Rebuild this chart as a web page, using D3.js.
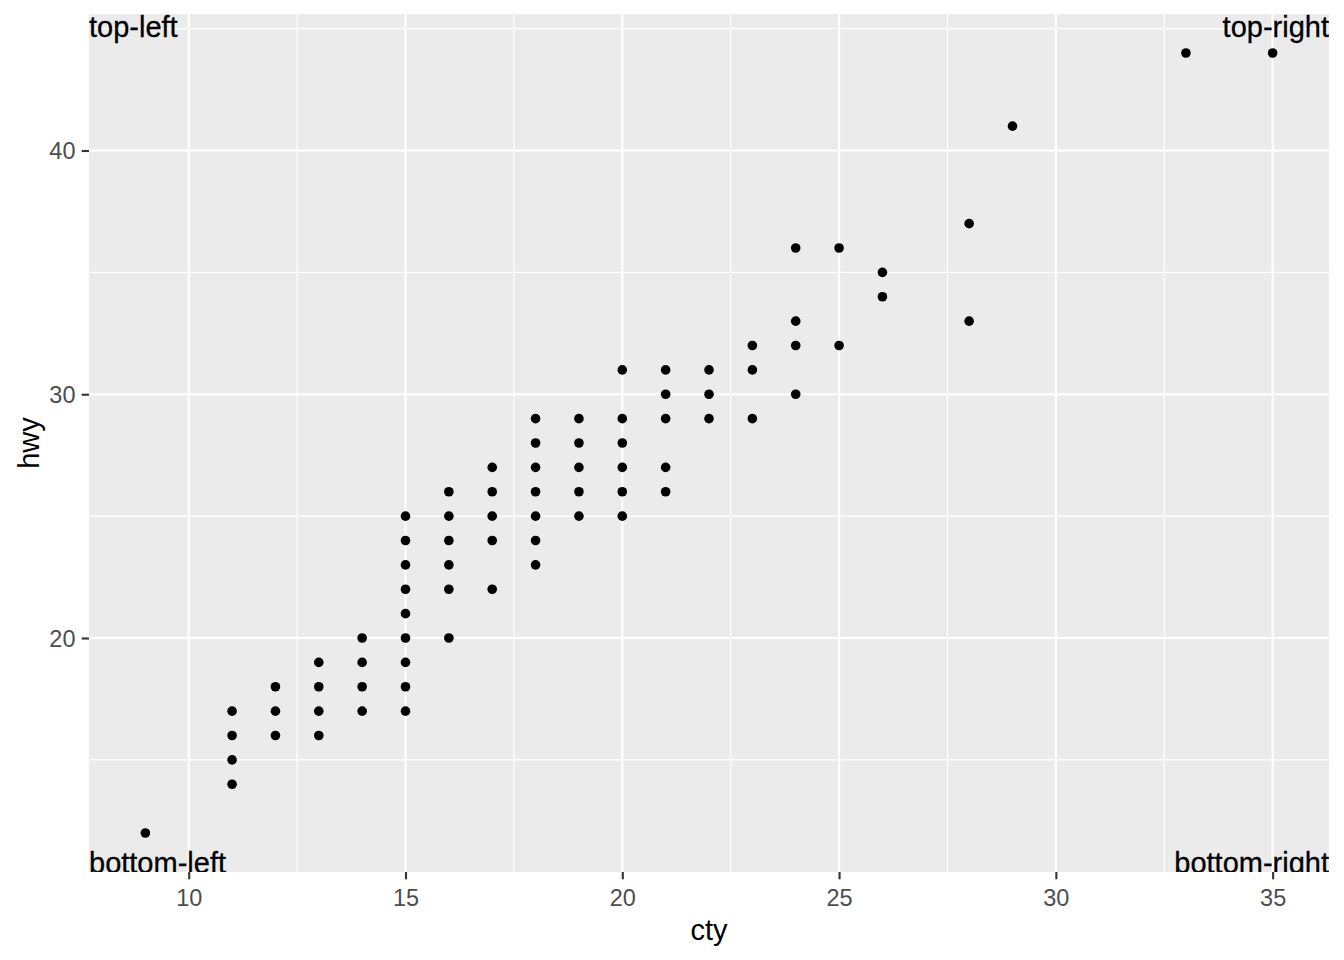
<!DOCTYPE html>
<html>
<head>
<meta charset="utf-8">
<script src="https://cdn.jsdelivr.net/npm/d3@7"></script>
<style>
  html, body { margin: 0; padding: 0; background: #ffffff; }
  svg text { font-family: "Liberation Sans", Arial, sans-serif; }
</style>
</head>
<body>
<svg id="chart" width="1344" height="960"></svg>
<script>
// Unique (cty, hwy) points
const cty = [9, 11, 11, 11, 11, 12, 12, 12, 13, 13, 13, 13, 14, 14, 14, 14,
  15, 15, 15, 15, 15, 15, 15, 15, 15,
  16, 16, 16, 16, 16, 16,
  17, 17, 17, 17, 17,
  18, 18, 18, 18, 18, 18, 18,
  19, 19, 19, 19, 19,
  20, 20, 20, 20, 20, 20,
  21, 21, 21, 21, 21,
  22, 22, 22,
  23, 23, 23,
  24, 24, 24, 24,
  25, 25,
  26, 26,
  28, 28,
  29, 33, 35];
const hwy = [12, 14, 15, 16, 17, 16, 17, 18, 16, 17, 18, 19, 17, 18, 19, 20,
  17, 18, 19, 20, 21, 22, 23, 24, 25,
  20, 22, 23, 24, 25, 26,
  22, 24, 25, 26, 27,
  23, 24, 25, 26, 27, 28, 29,
  25, 26, 27, 28, 29,
  25, 26, 27, 28, 29, 31,
  26, 27, 29, 30, 31,
  29, 30, 31,
  29, 31, 32,
  30, 32, 33, 36,
  32, 36,
  34, 35,
  33, 37,
  41, 44, 44];

const xTicks = [10, 15, 20, 25, 30, 35];
const xMinor = [12.5, 17.5, 22.5, 27.5, 32.5];
const yTicks = [20, 30, 40];
const yMinor = [15, 25, 35, 45];
const cornerLabels = ["top-left", "top-right", "bottom-left", "bottom-right"];
const xTitle = "cty";
const yTitle = "hwy";

const svg = d3.select("#chart");
const panel = { left: 89, right: 1329, top: 14, bottom: 872 };

const xr = d3.extent(cty), yr = d3.extent(hwy);
const xPad = (xr[1] - xr[0]) * 0.05, yPad = (yr[1] - yr[0]) * 0.05;
const x = d3.scaleLinear().domain([xr[0] - xPad, xr[1] + xPad]).range([panel.left, panel.right]);
const y = d3.scaleLinear().domain([yr[0] - yPad, yr[1] + yPad]).range([panel.bottom, panel.top]);

// panel background
svg.append("rect")
  .attr("x", panel.left).attr("y", panel.top)
  .attr("width", panel.right - panel.left).attr("height", panel.bottom - panel.top)
  .attr("fill", "#EBEBEB");

svg.append("clipPath").attr("id", "clip")
  .append("rect")
  .attr("x", panel.left).attr("y", panel.top)
  .attr("width", panel.right - panel.left).attr("height", panel.bottom - panel.top);

const grid = svg.append("g").attr("clip-path", "url(#clip)");
// minor grid
grid.selectAll(".xminor").data(xMinor).enter().append("line")
  .attr("x1", d => x(d)).attr("x2", d => x(d))
  .attr("y1", panel.top).attr("y2", panel.bottom)
  .attr("stroke", "#ffffff").attr("stroke-width", 1.1);
grid.selectAll(".yminor").data(yMinor).enter().append("line")
  .attr("y1", d => y(d)).attr("y2", d => y(d))
  .attr("x1", panel.left).attr("x2", panel.right)
  .attr("stroke", "#ffffff").attr("stroke-width", 1.1);
// major grid
grid.selectAll(".xmajor").data(xTicks).enter().append("line")
  .attr("x1", d => x(d)).attr("x2", d => x(d))
  .attr("y1", panel.top).attr("y2", panel.bottom)
  .attr("stroke", "#ffffff").attr("stroke-width", 2.1);
grid.selectAll(".ymajor").data(yTicks).enter().append("line")
  .attr("y1", d => y(d)).attr("y2", d => y(d))
  .attr("x1", panel.left).attr("x2", panel.right)
  .attr("stroke", "#ffffff").attr("stroke-width", 2.1);

// points
const pts = cty.map((c, i) => ({ c, h: hwy[i] }));
grid.selectAll("circle").data(pts).enter().append("circle")
  .attr("cx", d => x(d.c)).attr("cy", d => y(d.h))
  .attr("r", 4.8).attr("fill", "#000000");

// corner labels (clipped to panel)
const fs = 29;
const labels = grid.append("g").attr("font-size", fs).attr("fill", "#000000")
  .attr("stroke", "#000000").attr("stroke-width", 0.3);
labels.append("text").attr("x", panel.left).attr("y", panel.top + 22.5)
  .attr("text-anchor", "start").text(cornerLabels[0]);
labels.append("text").attr("x", panel.right).attr("y", panel.top + 22.5)
  .attr("text-anchor", "end").text(cornerLabels[1]);
labels.append("text").attr("x", panel.left).attr("y", panel.bottom + 1)
  .attr("text-anchor", "start").text(cornerLabels[2]);
labels.append("text").attr("x", panel.right).attr("y", panel.bottom + 1)
  .attr("text-anchor", "end").text(cornerLabels[3]);

// axes
const xAxis = d3.axisBottom(x).tickValues(xTicks).tickSize(7.3).tickPadding(5);
const gx = svg.append("g").attr("transform", `translate(0,${panel.bottom})`).call(xAxis);
const yAxis = d3.axisLeft(y).tickValues(yTicks).tickSize(7.3).tickPadding(5);
const gy = svg.append("g").attr("transform", `translate(${panel.left},0)`).call(yAxis);
[gx, gy].forEach(g => {
  g.select(".domain").remove();
  g.selectAll(".tick line").attr("stroke", "#333333").attr("stroke-width", 2.1);
  g.selectAll(".tick text").attr("fill", "#4D4D4D")
    .attr("font-size", 23.5).attr("font-family", "Liberation Sans, Arial, sans-serif");
});
gx.selectAll(".tick text").attr("dy", null).attr("y", 33.5);
gy.selectAll(".tick text").attr("dy", "0.35em").attr("x", -13.5);

// axis titles
svg.append("text").attr("x", (panel.left + panel.right) / 2).attr("y", 940)
  .attr("text-anchor", "middle").attr("font-size", 29).attr("fill", "#000000").text(xTitle);
svg.append("text").attr("transform", `translate(39,${(panel.top + panel.bottom) / 2}) rotate(-90)`)
  .attr("text-anchor", "middle").attr("font-size", 29).attr("fill", "#000000").text(yTitle);
</script>
</body>
</html>
